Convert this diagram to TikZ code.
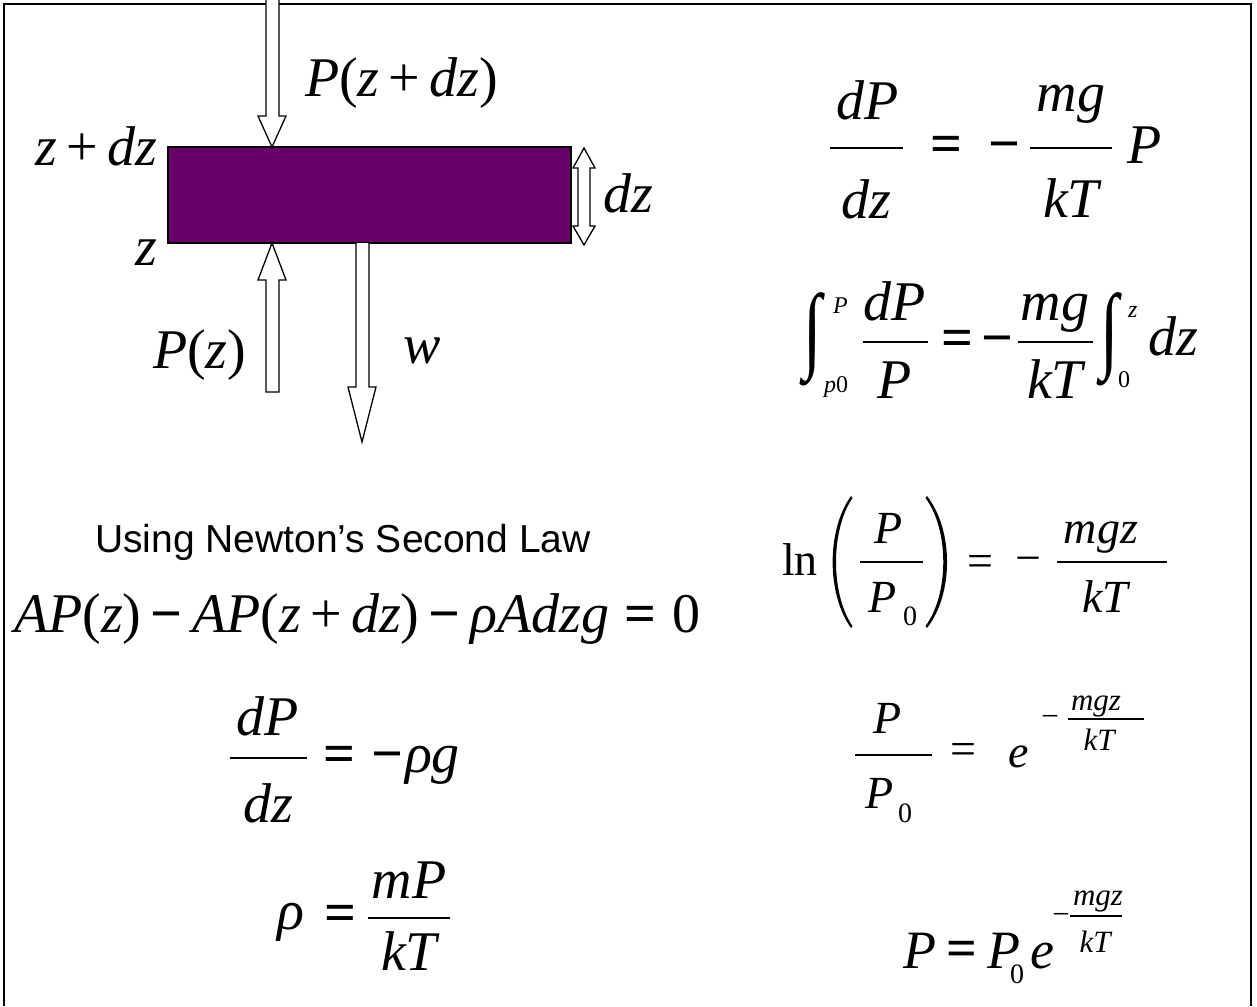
\documentclass[tikz,border=0pt]{standalone}
\usepackage{fontspec}
\setmainfont{Liberation Serif}
\newfontfamily\sansf{Liberation Sans}
\newcommand\rmup[1]{\textup{#1}}
\newcommand\bsym[1]{\textup{\bfseries #1}}
\definecolor{slabpurple}{RGB}{102,0,102}
\tikzset{
  t/.style={inner sep=0pt, outer sep=0pt},
  i56/.style={t, font=\fontsize{56}{64}\selectfont\itshape},
  u56/.style={t, font=\fontsize{56}{64}\selectfont},
  b56/.style={t, font=\fontsize{56}{64}\selectfont\bfseries},
  i54/.style={t, font=\fontsize{54}{62}\selectfont\itshape},
  u54/.style={t, font=\fontsize{54}{62}\selectfont},
  b54/.style={t, font=\fontsize{54}{62}\selectfont\bfseries},
  i46/.style={t, font=\fontsize{46}{52}\selectfont\itshape},
  u46/.style={t, font=\fontsize{46}{52}\selectfont},
  i31/.style={t, font=\fontsize{31}{36}\selectfont\itshape},
  u31/.style={t, font=\fontsize{31}{36}\selectfont},
  u28/.style={t, font=\fontsize{28}{32}\selectfont},
  i24/.style={t, font=\fontsize{24}{28}\selectfont\itshape},
  u24/.style={t, font=\fontsize{24}{28}\selectfont},
  fbarL/.style={line width=2.6pt},
  fbarM/.style={line width=2.1pt},
  fbarS/.style={line width=1.4pt},
  blockarrow/.style={fill=white, draw=black, line width=1.3pt, line join=miter},
}
\begin{document}
\begin{tikzpicture}[x=1pt,y=-1pt]
\useasboundingbox (0,0) rectangle (1257,1006);
\fill[white] (0,0) rectangle (1257,1006);
% frame
\draw[line width=2pt] (4,1006) -- (4,4) -- (1251,4) -- (1251,1006);

% slab
\node[t, draw=black, line width=1.5pt, fill=slabpurple, minimum width=403pt, minimum height=96pt, anchor=north west] (slab) at (168,147) {};

% block arrows
\draw[blockarrow] (266,0) -- (266,116) -- (258,116) -- (272,147) -- (286,116) -- (279,116) -- (279,0);
\draw[blockarrow] (266,392) -- (266,280) -- (258,280) -- (272,243) -- (286,280) -- (279,280) -- (279,392) -- cycle;
\draw[blockarrow] (356,243) -- (356,387) -- (348,387) -- (362,442) -- (376,387) -- (369,387) -- (369,243);
\draw[blockarrow] (578,168) -- (573,168) -- (584,148) -- (595,168) -- (590,168) -- (590,226) -- (595,226) -- (584,245) -- (573,226) -- (578,226) -- cycle;

% diagram labels
\node[i56, anchor=base west] (lPdz) at (305,97) {P\rmup{(}z\rmup{\,+\,}dz\rmup{)}};
\node[i56, anchor=base west] (lzdz) at (35,165) {z\rmup{\,+\,}dz};
\node[i56, anchor=base west] (ldz) at (603,212) {dz};
\node[i56, anchor=base west] (lz) at (135,265) {z};
\node[i56, anchor=base west] (lPz) at (153,368) {P\rmup{(}z\rmup{)}};
\node[i56, anchor=base west] (lw) at (403,363) {w};

% Newton
\node[t, font=\sansf\fontsize{39}{44}\selectfont, anchor=base west] (newton) at (95,552) {Using Newton’s Second Law};

% AP(z) - AP(z+dz) - rho A dz g = 0
\node[i56, anchor=base west] (eqA) at (14,632) {AP\rmup{(}z\rmup{)\,}\bsym{−}\rmup{\,}AP\rmup{(}z\rmup{\,+\,}dz\rmup{)\,}\bsym{−}\rmup{\,}ρAdzg\rmup{\;}\bsym{=}\rmup{\;0}};

% dP/dz = -rho g
\node[i56, anchor=base] (bnum) at (268,735) {dP};
\draw[fbarL] (230,758) -- (307,758);
\node[i56, anchor=base] (bden) at (268,822) {dz};
\node[b56, anchor=base] (beq) at (339,772) {=};
\node[b56, anchor=base] (bmin) at (387,772) {−};
\node[i56, anchor=base west] (brg) at (405,772) {ρg};

% rho = mP/kT
\node[i56, anchor=base west] (crho) at (277,929) {ρ};
\node[b56, anchor=base] (ceq) at (340,931) {=};
\node[i56, anchor=base] (cnum) at (409,898) {mP};
\draw[fbarL] (368,918) -- (450,918);
\node[i56, anchor=base] (cden) at (409,970) {kT};

% right eq 1: dP/dz = - mg/kT P
\node[i56, anchor=base] (rnum1) at (868,120) {dP};
\draw[fbarL] (830,148) -- (903,148);
\node[i56, anchor=base] (rden1) at (866,218) {dz};
\node[b56, anchor=base] (req1) at (946,162) {=};
\node[b56, anchor=base] (rmin1) at (1004,162) {−};
\node[i56, anchor=base] (rnum1b) at (1071,112) {mg};
\draw[fbarL] (1030,148) -- (1112,148);
\node[i56, anchor=base] (rden1b) at (1071,217) {kT};
\node[i56, anchor=base west] (rP1) at (1127,163) {P};

% right eq 2: integrals
\node[t, anchor=center] (int1) at (813,339) {\scalebox{1.2}[1.7]{\fontsize{56}{64}\selectfont\bfseries ∫}};
\node[i24, anchor=base west] (int1up) at (833,313) {P};
\node[i24, anchor=base west] (int1lo) at (824,392) {p\rmup{0}};
\node[i56, anchor=base] (rnum2) at (895,320) {dP};
\draw[fbarL] (863,342) -- (928,342);
\node[i56, anchor=base] (rden2) at (895,398) {P};
\node[b56, anchor=base] (req2) at (957,356) {=};
\node[b56, anchor=base] (rmin2) at (997,356) {−};
\node[i56, anchor=base] (rnum2b) at (1055,320) {mg};
\draw[fbarL] (1018,342) -- (1093,342);
\node[i56, anchor=base] (rden2b) at (1055,398) {kT};
\node[t, anchor=center] (int2) at (1110,339) {\scalebox{1.2}[1.7]{\fontsize{56}{64}\selectfont\bfseries ∫}};
\node[i24, anchor=base west] (int2up) at (1128,317) {z};
\node[u24, anchor=base west] (int2lo) at (1118,387) {0};
\node[i56, anchor=base west] (rdz2) at (1148,355) {dz};

% right eq 3: ln(P/P0) = - mgz/kT
\node[u46, anchor=base west] (ln) at (782,575) {ln};
\fill (851,496) .. controls (826.5,530) and (826.5,594) .. (851,628) -- (852.5,626) .. controls (830.5,594) and (830.5,530) .. (852.5,498) -- cycle;
\fill (927,496) .. controls (953.7,530) and (953.7,594) .. (927,628) -- (925.5,626) .. controls (949.2,594) and (949.2,530) .. (925.5,498) -- cycle;
\node[i46, anchor=base] (lnnum) at (889,543) {P};
\draw[fbarM] (860,562) -- (923,562);
\node[i46, anchor=base west] (lnden) at (868,612) {P};
\node[u28, anchor=base west] (lnden0) at (903,625) {0};
\node[u46, anchor=base] (lneq) at (980,576) {=};
\node[u46, anchor=base] (lnmin) at (1028,573) {−};
\node[i46, anchor=base] (lnnumb) at (1101,543) {mgz};
\draw[fbarM] (1057,562) -- (1167,562);
\node[i46, anchor=base] (lndenb) at (1105,612) {kT};

% right eq 4: P/P0 = e^{-mgz/kT}
\node[i46, anchor=base] (enum) at (888,733) {P};
\draw[fbarM] (855,755) -- (932,755);
\node[i46, anchor=base west] (eden) at (865,808) {P};
\node[u28, anchor=base west] (eden0) at (898,822) {0};
\node[u46, anchor=base] (eeq) at (963,764) {=};
\node[i46, anchor=base west] (ee) at (1008,767) {e};
\node[u31, anchor=base] (emin) at (1050,726) {−};
\node[i31, anchor=base] (expnum) at (1096,710) {mgz};
\draw[fbarS] (1068,719) -- (1144,719);
\node[i31, anchor=base] (expden) at (1099,750) {kT};

% right eq 5: P = P0 e^{-mgz/kT}
\node[i54, anchor=base west] (fP) at (903,968) {P};
\node[b54, anchor=base] (feq) at (962,966) {=};
\node[i54, anchor=base west] (fP0) at (987,968) {P};
\node[u28, anchor=base west] (fP00) at (1010,983) {0};
\node[i54, anchor=base west] (fe) at (1030,968) {e};
\node[u31, anchor=base] (fmin) at (1061,924) {−};
\node[i31, anchor=base] (fexpnum) at (1098,905) {mgz};
\draw[fbarS] (1070,916) -- (1122,916);
\node[i31, anchor=base] (fexpden) at (1095,952) {kT};
\end{tikzpicture}
\end{document}
